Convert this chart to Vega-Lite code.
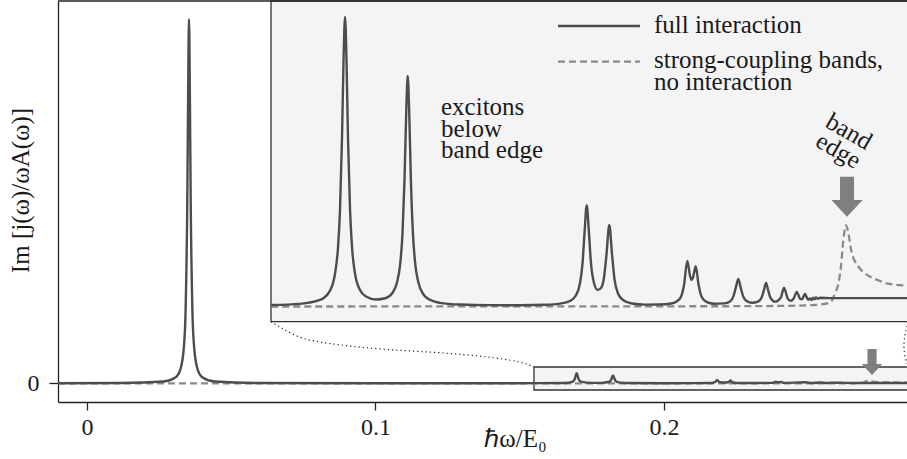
{
  "$schema": "https://vega.github.io/schema/vega-lite/v6.json",
  "width": 849,
  "height": 401,
  "autosize": {"type": "none"},
  "padding": {"left": 58, "top": 1, "right": 0, "bottom": 57},
  "background": "white",
  "config": {
    "font": "Liberation Serif",
    "view": {"stroke": null},
    "axis": {
      "labelFont": "Liberation Serif", "labelFontSize": 24, "labelColor": "#1a1a1a",
      "titleFont": "Liberation Serif", "titleFontSize": 25, "titleFontWeight": "normal", "titleColor": "#1a1a1a",
      "tickColor": "#222", "tickWidth": 1.3,
      "domainColor": "#222", "domainWidth": 1.3, "grid": false
    }
  },
  "datasets": {
    "boxes": [{"x": 0.15492, "x2": 0.33, "y": -0.0184, "y2": 0.0448}],
    "insetBg": [{"x": 0.06379, "x2": 0.33, "y": 0.1692, "y2": 1.05027}],
    "frame": [{"y": 1.05027}],
    "mainFull": [
      {"x": -0.01, "y": 0.0002}, {"x": 0.01178, "y": 0.0008}, {"x": 0.02653, "y": 0.0048}, {"x": 0.03066, "y": 0.0158},
      {"x": 0.03243, "y": 0.039}, {"x": 0.03361, "y": 0.1}, {"x": 0.0342, "y": 0.2}, {"x": 0.03479, "y": 0.5},
      {"x": 0.035085, "y": 0.8}, {"x": 0.03538, "y": 1.0}, {"x": 0.035675, "y": 0.8}, {"x": 0.03597, "y": 0.5},
      {"x": 0.03656, "y": 0.2}, {"x": 0.03715, "y": 0.1}, {"x": 0.03833, "y": 0.039}, {"x": 0.0401, "y": 0.0158},
      {"x": 0.04423, "y": 0.0048}, {"x": 0.05898, "y": 0.0008}, {"x": 0.1, "y": 0.0002}, {"x": 0.15, "y": 0.0003},
      {"x": 0.1657, "y": 0.0009}, {"x": 0.1682, "y": 0.004}, {"x": 0.169, "y": 0.011}, {"x": 0.1697, "y": 0.0275},
      {"x": 0.1704, "y": 0.011}, {"x": 0.1712, "y": 0.0045}, {"x": 0.175, "y": 0.0012}, {"x": 0.1783, "y": 0.0013},
      {"x": 0.1808, "y": 0.0035}, {"x": 0.1816, "y": 0.009}, {"x": 0.1823, "y": 0.0217}, {"x": 0.183, "y": 0.009},
      {"x": 0.1838, "y": 0.0032}, {"x": 0.1863, "y": 0.001}, {"x": 0.2, "y": 0.0003}, {"x": 0.2165, "y": 0.0008},
      {"x": 0.2178, "y": 0.004}, {"x": 0.2184, "y": 0.0095}, {"x": 0.219, "y": 0.004}, {"x": 0.2207, "y": 0.002},
      {"x": 0.2224, "y": 0.0035}, {"x": 0.223, "y": 0.0076}, {"x": 0.2236, "y": 0.003}, {"x": 0.225, "y": 0.0009},
      {"x": 0.2375, "y": 0.0012}, {"x": 0.2387, "y": 0.0042}, {"x": 0.2395, "y": 0.0027}, {"x": 0.2404, "y": 0.0037},
      {"x": 0.2415, "y": 0.0012}, {"x": 0.2489, "y": 0.0027}, {"x": 0.251, "y": 0.0007}, {"x": 0.2545, "y": 0.0022},
      {"x": 0.256, "y": 0.0008}, {"x": 0.2581, "y": 0.0018}, {"x": 0.2607, "y": 0.0015}, {"x": 0.2624, "y": 0.0012},
      {"x": 0.2654, "y": 0.0008}, {"x": 0.29, "y": 0.0008}
    ],
    "mainBands": [
      {"x": -0.01, "y": 0}, {"x": 0.26, "y": 0}, {"x": 0.2676, "y": 0.0005}, {"x": 0.2684, "y": 0.0012},
      {"x": 0.2691, "y": 0.0022}, {"x": 0.2696, "y": 0.0038}, {"x": 0.2701, "y": 0.0063}, {"x": 0.2706, "y": 0.0077},
      {"x": 0.2711, "y": 0.007}, {"x": 0.2718, "y": 0.0051}, {"x": 0.2731, "y": 0.0038}, {"x": 0.2755, "y": 0.0028},
      {"x": 0.2788, "y": 0.0022}, {"x": 0.2829, "y": 0.002}, {"x": 0.29, "y": 0.0018}
    ],
    "connectors": [
      {"c": "left", "o": 1, "x": 0.06379, "y": 0.1692}, {"c": "left", "o": 2, "x": 0.07038, "y": 0.1382},
      {"c": "left", "o": 3, "x": 0.07557, "y": 0.119}, {"c": "left", "o": 4, "x": 0.08711, "y": 0.1052},
      {"c": "left", "o": 5, "x": 0.10444, "y": 0.0915}, {"c": "left", "o": 6, "x": 0.12176, "y": 0.0852},
      {"c": "left", "o": 7, "x": 0.13909, "y": 0.0731}, {"c": "left", "o": 8, "x": 0.15066, "y": 0.0593},
      {"c": "left", "o": 9, "x": 0.15492, "y": 0.0448},
      {"c": "right", "o": 1, "x": 0.28417, "y": 0.1574}, {"c": "right", "o": 2, "x": 0.28348, "y": 0.1354},
      {"c": "right", "o": 3, "x": 0.28296, "y": 0.1052}, {"c": "right", "o": 4, "x": 0.2833, "y": 0.0777},
      {"c": "right", "o": 5, "x": 0.28417, "y": 0.053}
    ],
    "arrowMain": [{"x": 0.27204, "y": 0.0585}],
    "arrowInset": [{"x": 0.27084, "y": 0.3793}],
    "insetFull": [
      {"x": 0.15485, "y": 0.005}, {"x": 0.16064, "y": 0.009}, {"x": 0.16467, "y": 0.0225}, {"x": 0.16669, "y": 0.055},
      {"x": 0.16769, "y": 0.113}, {"x": 0.1683, "y": 0.204}, {"x": 0.1687, "y": 0.333}, {"x": 0.1691, "y": 0.58},
      {"x": 0.16941, "y": 0.849}, {"x": 0.16971, "y": 1.0}, {"x": 0.17001, "y": 0.85}, {"x": 0.17031, "y": 0.581},
      {"x": 0.17072, "y": 0.334}, {"x": 0.17112, "y": 0.205}, {"x": 0.17172, "y": 0.114}, {"x": 0.17273, "y": 0.057},
      {"x": 0.17394, "y": 0.0345}, {"x": 0.17595, "y": 0.024}, {"x": 0.17797, "y": 0.0293}, {"x": 0.17918, "y": 0.045},
      {"x": 0.18018, "y": 0.083}, {"x": 0.18079, "y": 0.142}, {"x": 0.18129, "y": 0.252}, {"x": 0.18169, "y": 0.436},
      {"x": 0.18204, "y": 0.673}, {"x": 0.18234, "y": 0.796}, {"x": 0.18264, "y": 0.673}, {"x": 0.18298, "y": 0.436},
      {"x": 0.18339, "y": 0.252}, {"x": 0.18389, "y": 0.142}, {"x": 0.18449, "y": 0.083}, {"x": 0.1855, "y": 0.042},
      {"x": 0.18683, "y": 0.023}, {"x": 0.18885, "y": 0.0126}, {"x": 0.19287, "y": 0.0067}, {"x": 0.19892, "y": 0.0046},
      {"x": 0.20496, "y": 0.0045}, {"x": 0.21, "y": 0.0059}, {"x": 0.21302, "y": 0.01}, {"x": 0.21503, "y": 0.019},
      {"x": 0.21624, "y": 0.039}, {"x": 0.21705, "y": 0.081}, {"x": 0.21755, "y": 0.148}, {"x": 0.21796, "y": 0.255},
      {"x": 0.2184, "y": 0.35}, {"x": 0.21884, "y": 0.257}, {"x": 0.21926, "y": 0.149}, {"x": 0.21987, "y": 0.081},
      {"x": 0.22057, "y": 0.0575}, {"x": 0.22128, "y": 0.064}, {"x": 0.22188, "y": 0.1}, {"x": 0.22239, "y": 0.181},
      {"x": 0.22295, "y": 0.282}, {"x": 0.22349, "y": 0.182}, {"x": 0.224, "y": 0.094}, {"x": 0.2247, "y": 0.045},
      {"x": 0.22571, "y": 0.0226}, {"x": 0.22752, "y": 0.0105}, {"x": 0.23014, "y": 0.0065}, {"x": 0.23316, "y": 0.0067},
      {"x": 0.23518, "y": 0.0096}, {"x": 0.23659, "y": 0.0184}, {"x": 0.2374, "y": 0.034}, {"x": 0.238, "y": 0.074},
      {"x": 0.23866, "y": 0.157}, {"x": 0.23921, "y": 0.107}, {"x": 0.23951, "y": 0.0913}, {"x": 0.23981, "y": 0.1},
      {"x": 0.24036, "y": 0.139}, {"x": 0.24092, "y": 0.077}, {"x": 0.24152, "y": 0.0348}, {"x": 0.24243, "y": 0.017},
      {"x": 0.24404, "y": 0.0096}, {"x": 0.24606, "y": 0.0107}, {"x": 0.24727, "y": 0.0176}, {"x": 0.24797, "y": 0.036},
      {"x": 0.24847, "y": 0.068}, {"x": 0.24894, "y": 0.095}, {"x": 0.24938, "y": 0.068}, {"x": 0.24988, "y": 0.037},
      {"x": 0.25059, "y": 0.019}, {"x": 0.2517, "y": 0.0128}, {"x": 0.25291, "y": 0.0166}, {"x": 0.25361, "y": 0.03},
      {"x": 0.25412, "y": 0.058}, {"x": 0.25452, "y": 0.081}, {"x": 0.25492, "y": 0.058}, {"x": 0.25542, "y": 0.03},
      {"x": 0.25633, "y": 0.0167}, {"x": 0.25754, "y": 0.032}, {"x": 0.25788, "y": 0.053}, {"x": 0.25814, "y": 0.065},
      {"x": 0.25845, "y": 0.052}, {"x": 0.25885, "y": 0.029}, {"x": 0.25945, "y": 0.02}, {"x": 0.26006, "y": 0.027},
      {"x": 0.26042, "y": 0.0415}, {"x": 0.2607, "y": 0.05}, {"x": 0.261, "y": 0.0415}, {"x": 0.26137, "y": 0.027},
      {"x": 0.26177, "y": 0.025}, {"x": 0.26211, "y": 0.036}, {"x": 0.26237, "y": 0.043}, {"x": 0.26268, "y": 0.033},
      {"x": 0.26298, "y": 0.024}, {"x": 0.26338, "y": 0.028}, {"x": 0.26368, "y": 0.022}, {"x": 0.26399, "y": 0.03},
      {"x": 0.26429, "y": 0.025}, {"x": 0.26459, "y": 0.031}, {"x": 0.26499, "y": 0.027}, {"x": 0.2654, "y": 0.03},
      {"x": 0.26741, "y": 0.029}, {"x": 0.27345, "y": 0.029}, {"x": 0.29, "y": 0.029}
    ],
    "insetBands": [
      {"x": 0.15485, "y": 0}, {"x": 0.25, "y": 0.001}, {"x": 0.25734, "y": 0.002}, {"x": 0.26399, "y": 0.005},
      {"x": 0.2664, "y": 0.009}, {"x": 0.26761, "y": 0.017}, {"x": 0.26842, "y": 0.045}, {"x": 0.26912, "y": 0.08},
      {"x": 0.26963, "y": 0.14}, {"x": 0.27009, "y": 0.23}, {"x": 0.27043, "y": 0.27}, {"x": 0.27063, "y": 0.281},
      {"x": 0.2711, "y": 0.254}, {"x": 0.27178, "y": 0.185}, {"x": 0.27245, "y": 0.155}, {"x": 0.27311, "y": 0.138},
      {"x": 0.27426, "y": 0.117}, {"x": 0.27547, "y": 0.103}, {"x": 0.27708, "y": 0.091}, {"x": 0.27883, "y": 0.08},
      {"x": 0.28071, "y": 0.075}, {"x": 0.28292, "y": 0.072}, {"x": 0.29, "y": 0.067}
    ],
    "legendLines": [
      {"x": 0.21262, "x2": 0.22913, "y": 0.9689, "s": "full"},
      {"x": 0.21262, "x2": 0.22913, "y": 0.8456, "s": "bands"}
    ],
    "insetText": [
      {"x": 0.23195, "y": 0.9437, "t": "full interaction"},
      {"x": 0.23195, "y": 0.8228, "t": "strong-coupling bands,"},
      {"x": 0.23195, "y": 0.7478, "t": "no interaction"},
      {"x": 0.18905, "y": 0.6615, "t": "excitons"},
      {"x": 0.18905, "y": 0.5865, "t": "below"},
      {"x": 0.18905, "y": 0.5119, "t": "band edge"}
    ],
    "bandEdgeText": [
      {"x": 0.27124, "y": 0.6045, "t": "band"},
      {"x": 0.26912, "y": 0.5389, "t": "edge"}
    ]
  },
  "layer": [
    {
      "data": {"name": "boxes"},
      "mark": {"type": "rect", "fill": "#f4f4f4", "stroke": "#333", "strokeWidth": 1.3},
      "encoding": {
        "x": {"field": "x", "type": "quantitative", "scale": {"domain": [-0.01001, 0.28416], "nice": false, "zero": false},
          "axis": {"title": "ℏω/E₀", "values": [0, 0.1, 0.2], "labelExpr": "datum.value === 0 ? '0' : format(datum.value, '.1f')",
            "labelFlush": false, "labelOverlap": false, "labelPadding": 5, "tickSize": 8,
            "titleX": 457, "titleY": 44, "titleBaseline": "alphabetic", "titleAlign": "center"}},
        "x2": {"field": "x2"},
        "y": {"field": "y", "type": "quantitative", "scale": {"domain": [-0.05137, 1.05027], "nice": false, "zero": false},
          "axis": {"title": "Im [j(ω)/ωA(ω)]", "values": [0], "labelPadding": 10, "tickSize": 9,
            "titleX": -37.5, "titleY": 189, "titleBaseline": "middle", "titleAngle": -90, "titleAlign": "center"}},
        "y2": {"field": "y2"}
      }
    },
    {
      "data": {"name": "insetBg"},
      "mark": {"type": "rect", "fill": "#f4f4f4", "stroke": "#333", "strokeWidth": 1.3},
      "encoding": {
        "x": {"field": "x", "type": "quantitative", "scale": {"domain": [-0.01001, 0.28416], "nice": false, "zero": false}, "axis": null},
        "x2": {"field": "x2"},
        "y": {"field": "y", "type": "quantitative", "scale": {"domain": [-0.05137, 1.05027], "nice": false, "zero": false}, "axis": null},
        "y2": {"field": "y2"}
      }
    },
    {
      "data": {"name": "frame"},
      "mark": {"type": "rule", "stroke": "#222", "strokeWidth": 1.3},
      "encoding": {
        "y": {"field": "y", "type": "quantitative", "scale": {"domain": [-0.05137, 1.05027], "nice": false, "zero": false}, "axis": null}
      }
    },
    {
      "data": {"name": "mainBands"},
      "mark": {"type": "line", "stroke": "#8a8a8a", "strokeWidth": 2.3, "strokeDash": [7, 4], "interpolate": "monotone", "clip": true},
      "encoding": {
        "x": {"field": "x", "type": "quantitative", "scale": {"domain": [-0.01001, 0.28416], "nice": false, "zero": false}, "axis": null},
        "y": {"field": "y", "type": "quantitative", "scale": {"domain": [-0.05137, 1.05027], "nice": false, "zero": false}, "axis": null}
      }
    },
    {
      "data": {"name": "mainFull"},
      "mark": {"type": "line", "stroke": "#4d4d4d", "strokeWidth": 2.4, "interpolate": "monotone", "clip": true},
      "encoding": {
        "x": {"field": "x", "type": "quantitative", "scale": {"domain": [-0.01001, 0.28416], "nice": false, "zero": false}, "axis": null},
        "y": {"field": "y", "type": "quantitative", "scale": {"domain": [-0.05137, 1.05027], "nice": false, "zero": false}, "axis": null}
      }
    },
    {
      "data": {"name": "connectors"},
      "mark": {"type": "line", "stroke": "#222", "strokeWidth": 1.2, "strokeDash": [1.2, 3], "interpolate": "basis", "clip": true},
      "encoding": {
        "x": {"field": "x", "type": "quantitative", "scale": {"domain": [-0.01001, 0.28416], "nice": false, "zero": false}, "axis": null},
        "y": {"field": "y", "type": "quantitative", "scale": {"domain": [-0.05137, 1.05027], "nice": false, "zero": false}, "axis": null},
        "detail": {"field": "c"},
        "order": {"field": "o", "type": "quantitative"}
      }
    },
    {
      "data": {"name": "arrowMain"},
      "mark": {"type": "point", "shape": "M-0.35,-1L0.35,-1L0.35,0.16L0.78,0.16L0,1L-0.78,0.16L-0.35,0.16Z", "filled": true, "fill": "#7f7f7f", "strokeWidth": 0, "opacity": 1, "size": 676},
      "encoding": {
        "x": {"field": "x", "type": "quantitative", "scale": {"domain": [-0.01001, 0.28416], "nice": false, "zero": false}, "axis": null},
        "y": {"field": "y", "type": "quantitative", "scale": {"domain": [-0.05137, 1.05027], "nice": false, "zero": false}, "axis": null}
      }
    },
    {
      "data": {"name": "insetBands"},
      "mark": {"type": "line", "stroke": "#8a8a8a", "strokeWidth": 2.3, "strokeDash": [7, 4], "interpolate": "monotone", "clip": true},
      "encoding": {
        "x": {"field": "x", "type": "quantitative", "scale": {"domain": [0.11189, 0.28292], "nice": false, "zero": false}, "axis": null},
        "y": {"field": "y", "type": "quantitative", "scale": {"domain": [-0.32988, 1.05527], "nice": false, "zero": false}, "axis": null}
      }
    },
    {
      "data": {"name": "insetFull"},
      "mark": {"type": "line", "stroke": "#4d4d4d", "strokeWidth": 2.4, "interpolate": "monotone", "clip": true},
      "encoding": {
        "x": {"field": "x", "type": "quantitative", "scale": {"domain": [0.11189, 0.28292], "nice": false, "zero": false}, "axis": null},
        "y": {"field": "y", "type": "quantitative", "scale": {"domain": [-0.32988, 1.05527], "nice": false, "zero": false}, "axis": null}
      }
    },
    {
      "data": {"name": "arrowInset"},
      "mark": {"type": "point", "shape": "M-0.35,-1L0.35,-1L0.35,0.16L0.78,0.16L0,1L-0.78,0.16L-0.35,0.16Z", "filled": true, "fill": "#7f7f7f", "strokeWidth": 0, "opacity": 1, "size": 1600},
      "encoding": {
        "x": {"field": "x", "type": "quantitative", "scale": {"domain": [0.11189, 0.28292], "nice": false, "zero": false}, "axis": null},
        "y": {"field": "y", "type": "quantitative", "scale": {"domain": [-0.32988, 1.05527], "nice": false, "zero": false}, "axis": null}
      }
    },
    {
      "data": {"name": "legendLines"},
      "transform": [{"filter": "datum.s === 'full'"}],
      "mark": {"type": "rule", "stroke": "#4d4d4d", "strokeWidth": 2.4},
      "encoding": {
        "x": {"field": "x", "type": "quantitative", "scale": {"domain": [0.11189, 0.28292], "nice": false, "zero": false}, "axis": null},
        "x2": {"field": "x2"},
        "y": {"field": "y", "type": "quantitative", "scale": {"domain": [-0.32988, 1.05527], "nice": false, "zero": false}, "axis": null}
      }
    },
    {
      "data": {"name": "legendLines"},
      "transform": [{"filter": "datum.s === 'bands'"}],
      "mark": {"type": "rule", "stroke": "#8a8a8a", "strokeWidth": 2.3, "strokeDash": [7, 4]},
      "encoding": {
        "x": {"field": "x", "type": "quantitative", "scale": {"domain": [0.11189, 0.28292], "nice": false, "zero": false}, "axis": null},
        "x2": {"field": "x2"},
        "y": {"field": "y", "type": "quantitative", "scale": {"domain": [-0.32988, 1.05527], "nice": false, "zero": false}, "axis": null}
      }
    },
    {
      "data": {"name": "insetText"},
      "mark": {"type": "text", "align": "left", "baseline": "alphabetic", "font": "Liberation Serif", "fontSize": 25, "fill": "#1a1a1a"},
      "encoding": {
        "x": {"field": "x", "type": "quantitative", "scale": {"domain": [0.11189, 0.28292], "nice": false, "zero": false}, "axis": null},
        "y": {"field": "y", "type": "quantitative", "scale": {"domain": [-0.32988, 1.05527], "nice": false, "zero": false}, "axis": null},
        "text": {"field": "t"}
      }
    },
    {
      "data": {"name": "bandEdgeText"},
      "mark": {"type": "text", "align": "center", "baseline": "middle", "angle": 30, "font": "Liberation Serif", "fontSize": 25, "fill": "#1a1a1a"},
      "encoding": {
        "x": {"field": "x", "type": "quantitative", "scale": {"domain": [0.11189, 0.28292], "nice": false, "zero": false}, "axis": null},
        "y": {"field": "y", "type": "quantitative", "scale": {"domain": [-0.32988, 1.05527], "nice": false, "zero": false}, "axis": null},
        "text": {"field": "t"}
      }
    }
  ],
  "resolve": {"scale": {"x": "independent", "y": "independent"}}
}
